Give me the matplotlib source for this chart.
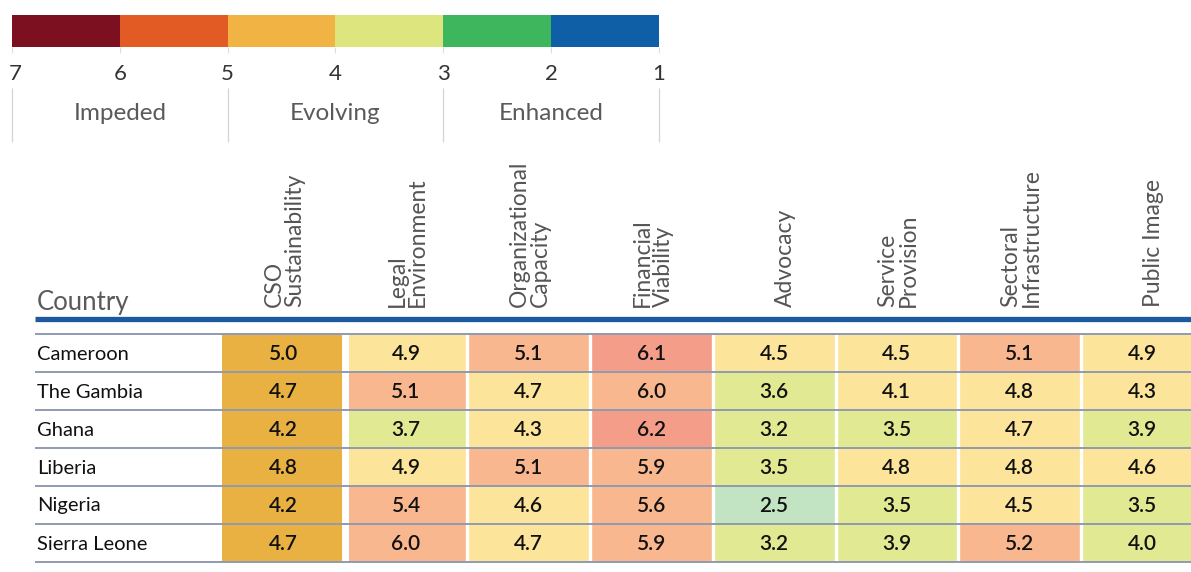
import numpy as np
import matplotlib.pyplot as plt
from matplotlib.colors import ListedColormap, BoundaryNorm

plt.rcParams['font.family'] = ['Lato', 'DejaVu Sans']

# данные таблицы
countries = ["Cameroon", "The Gambia", "Ghana", "Liberia", "Nigeria", "Sierra Leone"]
dimensions = ["CSO\nSustainability", "Legal\nEnvironment", "Organizational\nCapacity",
              "Financial\nViability", "Advocacy", "Service\nProvision",
              "Sectoral\nInfrastructure", "Public Image"]
scores = [
    [5.0, 4.9, 5.1, 6.1, 4.5, 4.5, 5.1, 4.9],
    [4.7, 5.1, 4.7, 6.0, 3.6, 4.1, 4.8, 4.3],
    [4.2, 3.7, 4.3, 6.2, 3.2, 3.5, 4.7, 3.9],
    [4.8, 4.9, 5.1, 5.9, 3.5, 4.8, 4.8, 4.6],
    [4.2, 5.4, 4.6, 5.6, 2.5, 3.5, 4.5, 3.5],
    [4.7, 6.0, 4.7, 5.9, 3.2, 3.9, 5.2, 4.0],
]

# шкала легенды
scale_ticks = [7, 6, 5, 4, 3, 2, 1]
scale_colors = ["#7C1020", "#E35B24", "#F1B343", "#DDE67E", "#3DB65E", "#0E5FA6"]
scale_groups = ["Impeded", "Evolving", "Enhanced"]

# пастельные цвета ячеек по интервалам значений
cell_bounds = [2.05, 3.05, 4.05, 5.05, 6.05, 7.05]
cell_colors = ["#C2E4C2", "#E1EA92", "#FDE49B", "#F9B78F", "#F49D89"]
cso_color = "#E9B142"

vals = np.array(scores)

fig = plt.figure(figsize=(11.91, 5.72), dpi=100)
ax = fig.add_axes([0, 0, 1, 1])
ax.set_xlim(0, 1191)
ax.set_ylim(572, 0)
ax.axis('off')

# --- легенда ---
leg_x0, leg_w, leg_y0, leg_y1 = 12, 107.8, 15, 47
leg_edges = leg_x0 + leg_w * np.arange(len(scale_colors) + 1)
ax.pcolormesh(leg_edges, [leg_y0, leg_y1], np.arange(len(scale_colors))[None, :],
              cmap=ListedColormap(scale_colors), shading='flat')
for i, t in enumerate(scale_ticks):
    ax.vlines(leg_edges[i], leg_y1, leg_y1 + 6, color="#dddddd", lw=0.8)
    ax.text(leg_edges[i] + (3 if i == 0 else 0), 74, str(t), ha='center', va='center',
            fontsize=16, color="#333333")
for i in range(0, len(scale_ticks), 2):
    ax.vlines(leg_edges[i], 88, 142, color="#d4d4d4", lw=0.9)
for k, g in enumerate(scale_groups):
    ax.text(leg_edges[2 * k + 1], 114, g, ha='center', va='center',
            fontsize=17.5, color="#5a5a5a")

# --- таблица ---
x0, col_w = 222, 122.7
row_top, row_h = 334, 38
xe = x0 + col_w * np.arange(len(dimensions) + 1)
ye = row_top + row_h * np.arange(len(countries) + 1)

cmap = ListedColormap(cell_colors)
norm = BoundaryNorm(cell_bounds, cmap.N)
ax.pcolormesh(xe, ye, vals, cmap=cmap, norm=norm, shading='flat')
ax.pcolormesh(xe[:2], ye, vals[:, :1], cmap=ListedColormap([cso_color]), shading='flat')

# белые промежутки между столбцами
ax.vlines(xe[1], ye[0], ye[-1], color='white', lw=5)
ax.vlines(xe[2:-1], ye[0], ye[-1], color='white', lw=2.4)
# линии строк
ax.hlines(ye, 35, 1191, color="#8f9bb0", lw=1.4)
# синяя линия под заголовком
ax.hlines(318.5, 35, 1191, color="#1b5a9e", lw=3.8)

xc = (xe[:-1] + xe[1:]) / 2
yc = (ye[:-1] + ye[1:]) / 2
for i, c in enumerate(countries):
    ax.text(37, yc[i] + 1, c, ha='left', va='center', fontsize=14.5, color="#111111")
    for j in range(len(dimensions)):
        ax.text(xc[j], yc[i] + 1, f"{vals[i, j]:.1f}", ha='center', va='center',
                fontsize=15, color="#111111", fontweight='semibold')

ax.text(37, 310, "Country", ha='left', va='baseline', fontsize=18.5, color="#5a5a5a")
for j, d in enumerate(dimensions):
    ax.text(xc[j] + 22, 307, d, rotation=90, ha='right', va='bottom',
            fontsize=16.5, color="#555555", multialignment='left', linespacing=0.98)

fig.savefig("out.png", dpi=100)
